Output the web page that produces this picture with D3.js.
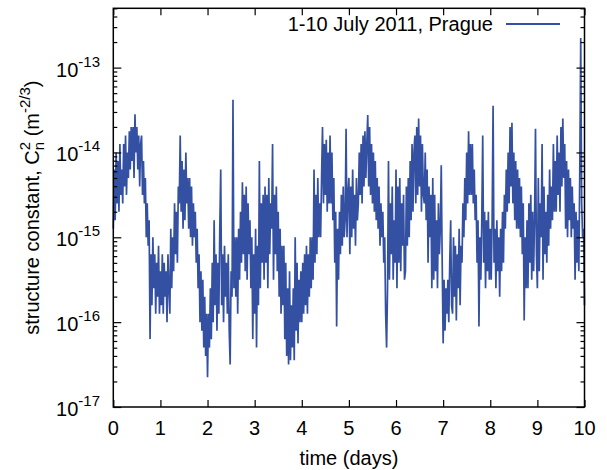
<!DOCTYPE html>
<html>
<head>
<meta charset="utf-8">
<script src="https://cdn.jsdelivr.net/npm/d3@7"></script>
<style>
  body { margin: 0; background: #fff; }
  text { font-family: "Liberation Sans", Arial, Helvetica, sans-serif; fill: #000; }
</style>
</head>
<body>
<div id="chart"></div>
<script>
// sampling of the series (days between samples)
const sampleStep = 0.02;

// log10 of Cn2, one value per sample from day 0 to day 10
const logCn2 = [
  -14.9, -14.2, -14.8, -14.0, -14.6, -14.1, -14.7, -13.9, -14.5, -14.2,
  -14.6, -13.9, -14.4, -13.8, -14.5, -14.0, -14.3, -13.75, -14.2, -13.7,
  -14.1, -13.7, -14.3, -13.55, -14.0, -13.7, -14.2, -13.8, -14.4, -13.9,
  -13.8, -14.5, -14.1, -14.6, -14.3, -15.0, -14.6, -15.1, -14.8, -16.2,
  -15.2, -15.8, -15.0, -15.6, -15.2, -15.9, -15.3, -15.7, -15.1, -15.9,
  -15.4, -15.8, -15.2, -15.9, -15.3, -15.7, -15.4, -16.0, -15.2, -15.6,
  -15.9, -14.9, -15.6, -15.0, -15.4, -14.6, -15.2, -14.7, -15.3, -14.4,
  -14.6, -13.8, -14.7, -14.1, -14.9, -14.2, -14.8, -14.0, -14.6, -14.3,
  -14.9, -14.3, -15.0, -14.4, -15.1, -14.6, -15.0, -14.7, -15.3, -14.9,
  -15.6, -15.2, -16.0, -15.4, -16.1, -15.5, -16.3, -15.7, -16.4, -15.9,
  -16.65, -15.9, -16.3, -15.6, -16.2, -15.3, -16.0, -14.8, -15.8, -15.2,
  -16.1, -15.3, -15.9, -14.9, -14.2, -15.8, -15.2, -16.0, -15.1, -15.7,
  -15.3, -15.9, -15.2, -16.1, -16.5, -15.4, -15.7, -13.38, -15.6, -15.0,
  -15.7, -15.0, -15.9, -14.9, -15.5, -14.7, -15.3, -14.35, -15.2, -14.5,
  -15.4, -14.4, -15.5, -14.6, -15.2, -14.8, -15.6, -15.0, -16.2, -15.2,
  -15.9, -14.9, -16.3, -15.1, -15.8, -14.1, -15.6, -14.6, -15.3, -14.5,
  -15.5, -14.4, -15.3, -14.5, -15.6, -14.3, -15.2, -14.6, -14.9, -13.9,
  -15.5, -14.5, -15.2, -14.4, -15.4, -14.7, -15.7, -14.9, -15.9, -15.1,
  -15.8, -15.1, -16.2, -15.3, -16.4, -15.6, -16.5, -15.4, -16.45, -15.8,
  -16.3, -15.6, -16.45, -15.0, -16.1, -15.3, -16.25, -15.5, -16.0, -15.4,
  -16.0, -15.3, -15.9, -15.2, -15.8, -15.1, -15.9, -15.2, -15.7, -15.0,
  -15.6, -15.0, -15.5, -14.2, -15.3, -14.5, -15.2, -14.3, -15.0, -14.6,
  -15.0, -14.3, -13.7, -14.6, -13.9, -14.5, -13.85, -14.7, -14.0, -14.6,
  -13.8, -14.6, -14.0, -14.8, -14.3, -15.3, -14.7, -16.05, -14.9, -15.5,
  -14.7, -15.2, -14.5, -15.1, -14.4, -15.0, -14.8, -13.72, -15.0, -14.5,
  -14.3, -15.2, -14.4, -15.0, -14.2, -14.9, -14.5, -15.1, -14.3, -14.8,
  -14.6, -14.0, -14.5, -13.9, -14.6, -13.8, -14.4, -13.75, -14.3, -13.9,
  -13.56, -14.4, -13.7, -14.5, -13.9, -14.6, -14.0, -14.7, -14.1, -14.8,
  -14.3, -14.9, -14.4, -15.1, -14.6, -15.0, -14.7, -15.3, -15.0, -15.9,
  -16.3, -15.6, -14.1, -15.5, -14.6, -15.2, -14.4, -15.5, -14.8, -15.3,
  -14.2, -15.6, -14.4, -15.3, -14.3, -15.4, -14.6, -15.1, -14.5, -15.5,
  -15.4, -14.4, -15.1, -14.3, -15.0, -14.1, -14.8, -13.9, -14.7, -14.0,
  -13.8, -14.6, -13.7, -14.5, -13.6, -14.4, -13.8, -14.7, -13.9, -14.5,
  -14.6, -14.0, -14.8, -14.2, -15.3, -14.4, -15.0, -14.5, -15.6, -14.3,
  -15.5, -14.5, -15.4, -14.8, -15.6, -14.6, -15.2, -14.9, -14.15, -15.3,
  -16.25, -15.5, -16.1, -15.6, -15.9, -15.5, -16.0, -15.3, -14.8, -15.8,
  -15.9, -15.0, -15.7, -15.1, -15.98, -15.2, -15.6, -14.9, -15.8, -15.1,
  -15.3, -14.6, -15.0, -14.3, -14.8, -14.0, -14.6, -13.75, -14.5, -13.9,
  -14.5, -13.9, -14.6, -14.2, -14.8, -14.5, -15.3, -14.8, -16.05, -15.0,
  -15.5, -14.8, -13.8, -15.3, -14.7, -15.6, -14.8, -15.4, -14.7, -15.5,
  -14.9, -15.5, -14.8, -13.45, -15.3, -14.9, -15.6, -14.8, -15.4, -15.0,
  -15.7, -14.9, -15.4, -14.7, -15.3, -14.5, -14.9, -14.2, -14.7, -14.0,
  -14.6, -13.7, -14.4, -13.65, -14.6, -14.0, -14.8, -14.1, -14.9, -14.2,
  -14.9, -14.3, -15.0, -14.4, -15.2, -14.6, -15.98, -15.0, -15.6, -14.8,
  -15.6, -14.6, -15.3, -14.5, -15.5, -14.7, -15.4, -14.8, -13.72, -15.2,
  -15.6, -14.3, -15.4, -14.6, -15.0, -13.9, -15.5, -14.4, -15.2, -14.7,
  -15.3, -14.5, -15.1, -14.2, -14.9, -14.4, -14.8, -13.9, -14.7, -14.1,
  -14.7, -13.8, -14.5, -14.0, -14.7, -13.7, -14.4, -13.6, -14.3, -13.9,
  -14.9, -14.1, -15.0, -14.2, -14.8, -14.3, -15.0, -14.4, -14.9, -14.6,
  -15.5, -14.7, -15.3, -14.8, -15.4, -14.2, -12.65, -14.6, -15.0, -14.9,
  -15.8
];

const xTicks = [0, 1, 2, 3, 4, 5, 6, 7, 8, 9, 10];
const yExponents = [-17, -16, -15, -14, -13];
const legendLabel = "1-10 July 2011, Prague";

const width = 607;
const height = 470;
const margin = { top: 8.3, right: 22.5, bottom: 63, left: 113.3 };
const lineColor = "#3450a2";

const svg = d3
  .select("#chart")
  .append("svg")
  .attr("width", width)
  .attr("height", height);

const x = d3.scaleLinear().domain([0, 10]).range([margin.left, width - margin.right]);
const y = d3.scaleLog().domain([1e-17, 5e-13]).range([height - margin.bottom, margin.top]);

const data = logCn2.map((v, i) => ({ t: i * sampleStep, c: Math.pow(10, v) }));

// the series
const line = d3.line().x(d => x(d.t)).y(d => y(d.c));
svg.append("path")
  .datum(data)
  .attr("d", line)
  .attr("fill", "none")
  .attr("stroke", lineColor)
  .attr("stroke-width", 1.7);

// ticks (gnuplot style: inward, mirrored)
const allY = y.ticks();
const majorY = yExponents.map(e => Math.pow(10, e));
const minorY = allY.filter(v => !majorY.some(m => Math.abs(v / m - 1) < 1e-6));

function drawTicks(axis, tx, ty) {
  const g = svg.append("g").attr("transform", `translate(${tx},${ty})`).call(axis);
  g.select(".domain").remove();
  g.selectAll(".tick line").attr("stroke", "#000").attr("stroke-width", 1.2);
  return g;
}

drawTicks(d3.axisBottom(x).tickValues(xTicks).tickSize(-7).tickFormat(""), 0, y.range()[0]);
drawTicks(d3.axisTop(x).tickValues(xTicks).tickSize(-7).tickFormat(""), 0, margin.top);
drawTicks(d3.axisLeft(y).tickValues(majorY).tickSize(-8).tickFormat(""), margin.left, 0);
drawTicks(d3.axisLeft(y).tickValues(minorY).tickSize(-4).tickFormat(""), margin.left, 0);
drawTicks(d3.axisRight(y).tickValues(majorY).tickSize(-8).tickFormat(""), x.range()[1], 0);
drawTicks(d3.axisRight(y).tickValues(minorY).tickSize(-4).tickFormat(""), x.range()[1], 0);

// frame
svg.append("rect")
  .attr("x", x.range()[0])
  .attr("y", margin.top)
  .attr("width", x.range()[1] - x.range()[0])
  .attr("height", y.range()[0] - margin.top)
  .attr("fill", "none")
  .attr("stroke", "#000")
  .attr("stroke-width", 1.5);

// x tick labels
svg.append("g")
  .selectAll("text")
  .data(xTicks)
  .join("text")
  .attr("x", d => x(d))
  .attr("y", 435)
  .attr("text-anchor", "middle")
  .style("font-size", "20px")
  .text(d => d);

// y tick labels 10^n
const yLab = svg.append("g")
  .selectAll("text")
  .data(yExponents)
  .join("text")
  .attr("x", 100)
  .attr("y", d => y(Math.pow(10, d)) + 9)
  .attr("text-anchor", "end")
  .style("font-size", "20px");
yLab.append("tspan").text("10");
yLab.append("tspan")
  .attr("dy", -10)
  .style("font-size", "15px")
  .text(d => String(d));

// axis titles
svg.append("text")
  .attr("x", (x.range()[0] + x.range()[1]) / 2)
  .attr("y", 465)
  .attr("text-anchor", "middle")
  .style("font-size", "20px")
  .text("time (days)");

const yTitle = svg.append("text")
  .attr("transform", `translate(39,${(y.range()[0] + margin.top) / 2}) rotate(-90)`)
  .attr("text-anchor", "middle")
  .style("font-size", "20px");
yTitle.append("tspan").text("structure constant, C");
yTitle.append("tspan").attr("dy", -9).style("font-size", "15px").text("2");
yTitle.append("tspan").attr("dx", -8.3).attr("dy", 14).style("font-size", "15px").text("n");
yTitle.append("tspan").attr("dy", -5).text(" (m");
yTitle.append("tspan").attr("dy", -9).style("font-size", "15px").text("-2/3");
yTitle.append("tspan").attr("dy", 9).text(")");

// legend
svg.append("text")
  .attr("x", 493)
  .attr("y", 31)
  .attr("text-anchor", "end")
  .style("font-size", "20px")
  .text(legendLabel);
svg.append("line")
  .attr("x1", 506)
  .attr("x2", 560)
  .attr("y1", 24)
  .attr("y2", 24)
  .attr("stroke", lineColor)
  .attr("stroke-width", 1.9);
</script>
</body>
</html>
